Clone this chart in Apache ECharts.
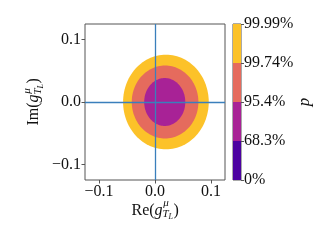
<!DOCTYPE html>
<html>
<head>
<meta charset="utf-8">
<script src="https://cdn.jsdelivr.net/npm/echarts@6/dist/echarts.min.js"></script>
<style>html,body{margin:0;padding:0;background:#fff}#c{width:320px;height:240px}</style>
</head>
<body>
<div id="c"></div>
<script>
// ---- data ----
const xTicks = [-0.1, 0.0, 0.1];
const xTickLabels = ['\u22120.1', '0.0', '0.1'];
const yTicks = [-0.1, 0.0, 0.1];
const yTickLabels = ['\u22120.1', '0.0', '0.1'];
// contour regions (outer -> inner): centre and semi-axes
const contourCx = [0.0195, 0.0180, 0.0174];
const contourCy = [0.0000, 0.0000, 0.0000];
const contourRx = [0.0765, 0.0595, 0.0367];
const contourRy = [0.0758, 0.0584, 0.0384];
// colorbar
const cbBoundaryLabels = ['0%', '68.3%', '95.4%', '99.74%', '99.99%'];
const cbBands = [1, 1, 1, 1];

// ---- style ----
const FONT = 'Liberation Serif';
const TXT = '#111';
const FRAME = '#555';
const FS = 16;
const contourColors = ['#fcc229', '#e56b5d', '#a82296'];
const cbColors = ['#4c02a1', '#a82296', '#e56b5d', '#fcc229'];

const contourData = contourCx.map((c, i) => [c, contourCy[i], contourRx[i], contourRy[i]]);

function axisName(prefix, cx, cy, rot) {
  const base = {fontFamily: FONT, fill: TXT, verticalAlign: 'middle', align: 'left'};
  return {
    type: 'group', x: cx, y: cy, rotation: rot,
    children: [
      {type: 'text', x: -23.5, y: 0, style: Object.assign({text: prefix, fontSize: FS}, base)},
      {type: 'text', x: -0.4, y: 0, style: Object.assign({text: 'g', fontSize: FS, fontStyle: 'italic'}, base)},
      {type: 'text', x: 8.3, y: -7.3, style: Object.assign({text: '\u03bc', fontSize: 11, fontStyle: 'italic'}, base)},
      {type: 'text', x: 7.6, y: 3.8, style: Object.assign({text: 'T', fontSize: 11, fontStyle: 'italic'}, base)},
      {type: 'text', x: 13.6, y: 6.8, style: Object.assign({text: 'L', fontSize: 8, fontStyle: 'italic'}, base)},
      {type: 'text', x: 18.4, y: 0, style: Object.assign({text: ')', fontSize: FS}, base)}
    ]
  };
}

const chart = echarts.init(document.getElementById('c'), null, {renderer: 'canvas'});
const cbSeries = cbBands.map((v, i) => ({
  type: 'bar', xAxisIndex: 1, yAxisIndex: 1, stack: 'cb', data: [v],
  barWidth: '100%', barCategoryGap: '0%', itemStyle: {color: cbColors[i]}, silent: true
}));

chart.setOption({
  animation: false,
  backgroundColor: '#fff',
  grid: [
    {left: 85, top: 24, width: 140, height: 156, show: true, borderColor: FRAME, borderWidth: 1, backgroundColor: 'transparent', containLabel: false},
    {left: 233, top: 24, width: 8, height: 156, show: true, borderColor: FRAME, borderWidth: 1, backgroundColor: 'transparent', containLabel: false}
  ],
  xAxis: [
    {
      type: 'value', gridIndex: 0, min: -0.125, max: 0.125, position: 'bottom',
      axisLine: {show: false, onZero: false}, splitLine: {show: false},
      axisTick: {show: true, length: 3.5, lineStyle: {color: FRAME}, customValues: xTicks},
      axisLabel: {
        customValues: xTicks, margin: 4, fontFamily: FONT, fontSize: FS, color: TXT,
        formatter: v => xTickLabels[xTicks.findIndex(t => Math.abs(t - v) < 1e-9)]
      }
    },
    {type: 'category', gridIndex: 1, data: ['cb'], show: false}
  ],
  yAxis: [
    {
      type: 'value', gridIndex: 0, min: -0.125, max: 0.125, position: 'left',
      axisLine: {show: false, onZero: false}, splitLine: {show: false},
      axisTick: {show: true, length: 3.5, lineStyle: {color: FRAME}, customValues: yTicks},
      axisLabel: {
        customValues: yTicks, margin: 4, fontFamily: FONT, fontSize: FS, color: TXT,
        formatter: v => yTickLabels[yTicks.findIndex(t => Math.abs(t - v) < 1e-9)]
      }
    },
    {
      type: 'value', gridIndex: 1, min: 0, max: 4, interval: 1, position: 'right',
      axisLine: {show: false, onZero: false}, splitLine: {show: false},
      axisTick: {show: true, length: 3, lineStyle: {color: FRAME}},
      axisLabel: {
        show: true, showMinLabel: true, showMaxLabel: true, margin: 3,
        fontFamily: FONT, fontSize: FS, color: TXT,
        formatter: v => cbBoundaryLabels[Math.round(v)]
      }
    }
  ],
  series: [
    {
      type: 'custom', xAxisIndex: 0, yAxisIndex: 0, data: contourData, clip: true, silent: true,
      renderItem: function (params, api) {
        const cx = api.value(0), cy = api.value(1), rx = api.value(2), ry = api.value(3);
        const pts = [];
        const N = 120;
        for (let i = 0; i < N; i++) {
          const t = 2 * Math.PI * i / N;
          pts.push(api.coord([cx + rx * Math.cos(t), cy + ry * Math.sin(t)]));
        }
        return {type: 'polygon', shape: {points: pts}, style: {fill: contourColors[params.dataIndex], stroke: null}};
      },
      z: 2
    },
    {
      type: 'line', xAxisIndex: 0, yAxisIndex: 0, data: [], z: 5,
      markLine: {
        silent: true, symbol: ['none', 'none'], animation: false,
        label: {show: false},
        lineStyle: {color: '#3a7fbc', width: 1.3, type: 'solid'},
        emphasis: {disabled: true},
        data: [{xAxis: 0}, {yAxis: 0}]
      }
    }
  ].concat(cbSeries),
  graphic: [
    axisName('Re(', 155, 210.5, 0),
    axisName('Im(', 34, 102, Math.PI / 2),
    {
      type: 'text', x: 305, y: 102, rotation: Math.PI / 2,
      style: {text: 'p', fontFamily: FONT, fontSize: 17, fontStyle: 'italic', fill: TXT, align: 'center', verticalAlign: 'middle'}
    }
  ]
});
</script>
</body>
</html>
